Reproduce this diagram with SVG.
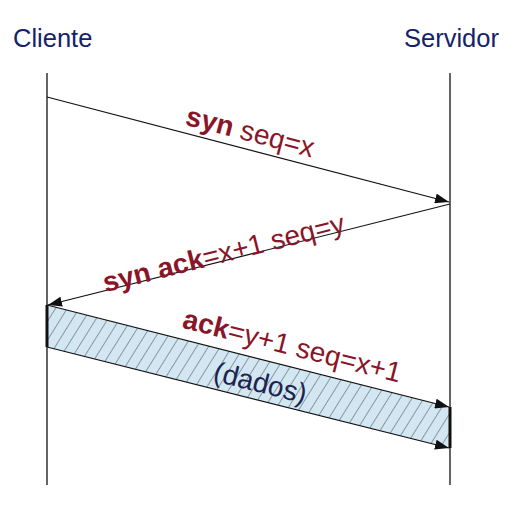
<svg xmlns="http://www.w3.org/2000/svg" width="512" height="512" viewBox="0 0 512 512">
<style>
.title{font-family:"Liberation Sans",Arial,sans-serif;font-size:25.5px;fill:#15226a}
.lbl{font-family:"Liberation Sans",Arial,sans-serif;font-size:28px;fill:#8a1528}
.b{font-weight:bold}
.dados{font-family:"Liberation Sans",Arial,sans-serif;font-size:28px;fill:#1b2450}
.life{stroke:#111;stroke-width:1.3;fill:none}
.msg{stroke:#111;stroke-width:1.2;fill:none;marker-end:url(#ah)}
</style>
<defs>
<marker id="ah" viewBox="0 0 14 10" refX="14" refY="5" markerWidth="14" markerHeight="10" markerUnits="userSpaceOnUse" orient="auto">
<path d="M0,0 L14,5 L0,10 z" fill="#111"/>
</marker>
<pattern id="hatch" width="10" height="10" patternUnits="userSpaceOnUse" patternTransform="rotate(32)">
<rect width="10" height="10" fill="#d3e7f3"/>
<line x1="0" y1="0" x2="0" y2="10" stroke="#333" stroke-width="0.9"/>
</pattern>
</defs>
<g id="cliente">
<text class="title" x="13" y="47">Cliente</text>
<line class="life" x1="47" y1="73" x2="47" y2="485"/>
</g>
<g id="servidor">
<text class="title" x="404" y="47">Servidor</text>
<line class="life" x1="450" y1="73" x2="450" y2="485"/>
</g>
<g id="connectors">
<line class="msg" x1="47" y1="97" x2="449" y2="202"/>
<line class="msg" x1="450" y1="204" x2="48" y2="305"/>
<polygon points="47,305 450,407 450,448 47,347" fill="url(#hatch)" stroke="none"/>
<line class="msg" x1="47" y1="305" x2="449" y2="407"/>
<line class="msg" x1="47" y1="347" x2="449" y2="448"/>
<line x1="47" y1="305" x2="47" y2="347" stroke="#111" stroke-width="3"/>
<line x1="450" y1="407" x2="450" y2="448" stroke="#111" stroke-width="3"/>
</g>
<g id="label-syn">
<text class="lbl" x="248" y="141" text-anchor="middle" transform="rotate(14.6 248 141)"><tspan class="b">syn</tspan> seq=x</text>
</g>
<g id="label-synack">
<text class="lbl" x="226" y="262" text-anchor="middle" transform="rotate(-14.1 226 262)"><tspan class="b">syn ack</tspan>=x+1 seq=y</text>
</g>
<g id="label-ack">
<text class="lbl" x="290" y="355" text-anchor="middle" transform="rotate(14.2 290 355)"><tspan class="b">ack</tspan>=y+1 seq=x+1</text>
</g>
<g id="label-dados">
<text class="dados" x="258" y="392" text-anchor="middle" transform="rotate(14.2 258 392)">(dados)</text>
</g>
</svg>
